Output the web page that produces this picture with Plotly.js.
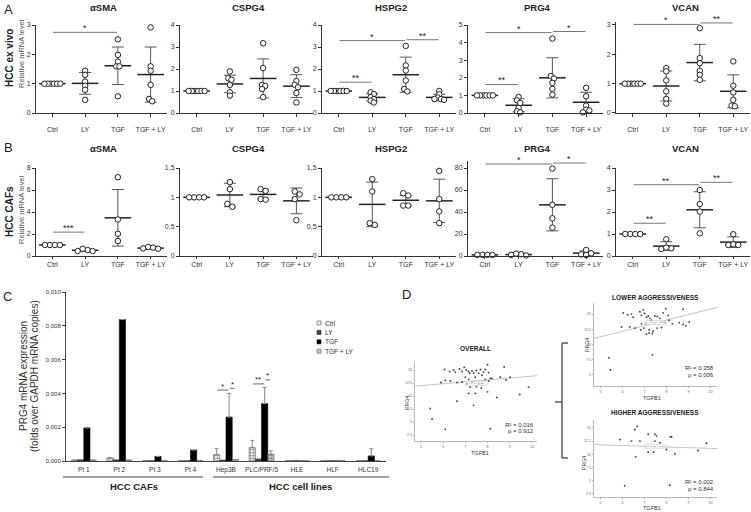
<!DOCTYPE html>
<html><head><meta charset="utf-8">
<script src="https://cdn.plot.ly/plotly-3.0.1.min.js"></script>
<style>html,body{margin:0;padding:0;background:#fff}#chart{width:751px;height:512px}</style>
</head><body><div id="chart"></div>
<script>
const W=751,H=512;
const groups=['Ctrl','LY','TGF','TGF + LY'];
const geneNames=['αSMA','CSPG4','HSPG2','PRG4','VCAN'];

// ---------- Panel A: HCC ex vivo (n = 6) ----------
const exSMA=[[1,1,1,1,1,1],[1.44,1.30,1.07,0.93,0.79,0.45],[2.51,1.98,1.75,1.59,1.59,0.57],[2.92,1.59,1.44,0.96,0.48,0.40]];
const exSMAMean=[1,1.01,1.61,1.31], exSMASd=[0,0.37,0.64,0.94];
const exSMASig=[[0,2,2.75,'*']];
const exCSPG4=[[1,1,1,1,1,1],[1.89,1.58,1.51,1.28,0.94,0.79],[3.17,2.04,1.28,1.23,1.09,0.72],[1.96,1.45,1.28,1.17,0.91,0.48]];
const exCSPG4Mean=[1,1.32,1.57,1.22], exCSPG4Sd=[0,0.40,0.89,0.52];
const exCSPG4Sig=[];
const exHSPG2=[[1,1,1,1,1,1],[0.94,0.86,0.72,0.63,0.56,0.48],[3.05,2.16,1.93,1.48,1.09,0.98],[1.0,0.85,0.7,0.63,0.63,0.6]];
const exHSPG2Mean=[1,0.71,1.74,0.71], exHSPG2Sd=[0,0.17,0.80,0.14];
const exHSPG2Sig=[[0,1,1.40,'**'],[0,2,3.29,'*'],[2,3,3.33,'**']];
const exPRG4=[[1,1,1,1,1,1],[0.91,0.72,0.57,0.29,0.10,0.04],[4.23,2.10,1.96,1.71,1.37,1.05],[1.43,0.95,0.42,0.19,0.15,0.04]];
const exPRG4Mean=[1,0.44,2.0,0.61], exPRG4Sd=[0,0.37,1.14,0.57];
const exPRG4Sig=[[0,1,1.62,'**'],[0,2,4.57,'*'],[2,3,4.63,'*']];
const exVCAN=[[1,1,1,1,1,1],[1.53,1.42,1.11,0.74,0.48,0.32],[2.89,1.87,1.70,1.44,1.30,1.13],[1.76,0.93,0.70,0.45,0.25,0.23]];
const exVCANMean=[1,0.92,1.72,0.74], exVCANSd=[0,0.51,0.62,0.56];
const exVCANSig=[[0,2,3.02,'*'],[2,3,3.07,'**']];

// ---------- Panel B: HCC CAFs (n = 4) ----------
const cafSMA=[[1,1,1,1],[0.54,0.45,0.45,0.66],[7.16,3.32,2.02,1.36],[0.82,0.76,0.69,0.66]];
const cafSMAMean=[1,0.52,3.47,0.72], cafSMASd=[0,0.09,2.57,0.07];
const cafSMASig=[[0,1,2.17,'***']];
const cafCSPG4=[[1,1,1,1],[1.26,1.14,0.89,0.84],[1.14,1.11,0.97,0.96],[1.10,1.05,0.97,0.61]];
const cafCSPG4Mean=[1,1.04,1.05,0.94], cafCSPG4Sd=[0,0.20,0.08,0.22];
const cafCSPG4Sig=[];
const cafHSPG2=[[1,1,1,1],[1.31,1.10,0.56,0.53],[1.07,1.03,0.86,0.86],[1.45,0.97,0.76,0.56]];
const cafHSPG2Mean=[1,0.88,0.95,0.94], cafHSPG2Sd=[0,0.38,0.08,0.37];
const cafHSPG2Sig=[];
const cafPRG4=[[1,1,1,1],[0.5,1.0,1.6,2.2],[79.5,46.5,34.3,25.8],[5.5,2.4,1.5,0.9]];
const cafPRG4Mean=[1,1.3,46.5,2.6], cafPRG4Sd=[0,0.7,23.7,2.0];
const cafPRG4Sig=[[0,2,83.6,'*'],[2,3,84.5,'*']];
const cafVCAN=[[1,1,1,1],[0.76,0.35,0.32,0.38],[3.0,2.36,2.02,1.03],[0.99,0.53,0.50,0.50]];
const cafVCANMean=[1,0.45,2.1,0.63], cafVCANSd=[0,0.2,0.82,0.24];
const cafVCANSig=[[0,1,1.49,'**'],[0,2,3.24,'**'],[2,3,3.35,'**']];

// ---------- Panel C: PRG4 mRNA expression ----------
const cCats=['Pt 1','Pt 2','Pt 3','Pt 4','Hep3B','PLC/PRF/5','HLE','HLF','HLC19'];
const cCtrl=[0.00005,0.00018,0.00001,0.00001,0.00037,0.00079,0.00001,0.00001,0.00001];
const cLY=[0.00007,0.00007,0.00001,0.00001,0.00005,0.00012,0.00001,0.00001,0.00001];
const cTGF=[0.00196,0.00837,0.00027,0.00065,0.0026,0.0034,0.00001,0.00001,0.0003];
const cTGFLY=[0.00005,0.00005,0.00001,0.00002,0.00008,0.0004,0.00001,0.00001,0.00001];
const cCtrlErr=[null,null,null,null,0.00036,0.00043,null,null,null];
const cTGFErr=[null,null,null,null,0.0014,0.00095,null,null,0.00042];
const cTGFLYErr=[null,null,null,null,null,0.0002,null,null,null];
const cSig=[[4,0,2,0.0042,'*'],[4,2,3,0.0043,'*'],[5,0,2,0.00456,'**'],[5,2,3,0.0048,'*']];

// ---------- Panel D: TGFB1 vs PRG4 ----------
const overallX=[6.07,6.29,6.47,6.55,6.74,6.85,6.95,7.04,7.14,7.2,7.3,7.37,7.5,7.6,7.68,7.75,7.82,8.0,7.9,8.05,8.12,8.75,9.02,8.57,8.84,6.32,6.62,6.85,7.0,7.15,7.3,7.45,7.6,7.75,7.9,8.05,8.2,7.07,7.22,7.5,7.72,7.15,7.45,8.0,6.62,8.42,7.37,9.45,9.85,5.42,5.5,6.1,8.12,5.9,6.1];
const overallY=[15.1,14.7,15.0,14.6,15.2,14.7,15.5,15.0,14.7,14.4,14.8,14.4,14.9,14.4,15.1,14.0,14.6,16.0,15.1,14.5,13.4,15.6,13.6,13.6,13.1,12.9,12.6,12.7,13.6,13.2,12.7,13.6,12.3,12.4,13.2,12.9,13.4,12.3,11.7,11.8,11.5,10.5,10.5,10.8,9.0,9.7,8.2,10.3,11.7,7.6,5.6,3.6,3.7,12.6,13.0];
const overallFitX=[4.73,10.23], overallFitY=[11.9,13.9];
const lowerX=[6.03,6.23,6.41,6.48,6.79,6.94,6.86,7.0,7.09,7.17,7.24,7.32,7.47,7.58,7.7,7.85,7.97,8.08,8.12,8.27,8.76,8.58,8.76,8.88,9.03,6.33,6.56,6.83,6.97,7.06,7.21,7.39,7.58,7.77,6.86,7.09,7.21,7.36,7.92,5.95,7.36,5.38,5.45];
const lowerY=[15.2,14.9,15.0,14.5,15.4,15.7,14.8,15.1,14.5,14.7,14.3,14.0,14.7,14.6,14.3,15.2,15.9,14.8,14.0,13.4,15.8,13.6,13.3,13.1,13.7,12.9,12.7,12.4,12.7,13.4,12.4,12.2,12.7,12.8,13.4,11.7,11.9,11.8,13.6,12.9,8.3,7.8,5.8];
const lowerFitX=[4.7,10.3], lowerFitY=[11.0,16.1];
const higherX=[6.56,6.67,5.88,6.41,6.79,7.17,7.47,7.55,7.47,7.7,8.18,8.23,7.17,7.42,8.0,6.6,8.38,9.44,9.82,6.1,8.15];
const higherY=[14.7,15.3,12.8,12.5,12.5,13.8,13.8,13.5,12.5,12.2,13.3,13.3,10.4,10.4,10.9,9.5,10.1,10.7,12.1,4.0,4.1];
const higherFitX=[4.7,10.3], higherFitY=[11.83,11.07];
const dStats=[['R² = 0.016','p = 0.912'],['R² = 0.358','p = 0.006'],['R² = 0.002','p = 0.844']];

// ================= build =================
const FONT='Liberation Sans, Arial, sans-serif';
const data=[], shapes=[], annotations=[];
const layout={width:W,height:H,margin:{l:0,r:0,t:0,b:0},paper_bgcolor:'#fff',plot_bgcolor:'rgba(0,0,0,0)',
  showlegend:false,separators:', ',font:{family:FONT,size:7,color:'#222'},
  barmode:'group',bargap:0.3,bargroupgap:0,shapes,annotations};

function axId(n){return n===1?'':String(n);}
function ann(x,y,text,size,opts){
  opts=opts||{};
  return Object.assign({xref:'paper',yref:'paper',x:x/W,y:1-y/H,text:text,showarrow:false,
    xanchor:'center',yanchor:'middle',font:{family:FONT,size:size,color:opts.color||'#222'}},opts.extra||{});
}
function swarm(vals,ppu,step){
  const n=vals.length, order=vals.map((v,i)=>i).sort((a,b)=>vals[b]-vals[a]);
  const off=new Array(n).fill(0);
  const cl=[[order[0]]];
  for(let k=1;k<n;k++){
    if((vals[order[k-1]]-vals[order[k]])*ppu<step) cl[cl.length-1].push(order[k]); else cl.push([order[k]]);
  }
  cl.forEach(c=>{
    const placed=[];
    c.forEach(i=>{
      const y=vals[i]*ppu;
      for(let m=0;m<40;m++){
        const k=(m%2?1:-1)*Math.ceil(m/2), dx=k*step;
        if(placed.every(p=>(p.dx-dx)*(p.dx-dx)+(p.y-y)*(p.y-y)>=step*step*0.98)){placed.push({i,dx,y});break;}
      }
    });
    const mu=placed.reduce((s,p)=>s+p.dx,0)/placed.length;
    placed.forEach(p=>{off[p.i]=p.dx-mu;});
  });
  return off;
}

function dotPanel(n,xd,topTickPx,botPx,yr,dtick,pts,mean,sd,sig,step,standoff,xtl){
  const id=axId(n), xr='x'+id, yrf='y'+id;
  const topTick=Math.floor(yr[1]/dtick+1e-9)*dtick;
  const ppu=(botPx-topTickPx)/topTick;
  const domTop=botPx-yr[1]*ppu;
  layout['xaxis'+id]={domain:[xd[0]/W,xd[1]/W],anchor:yrf,range:[-0.5,3.5],tickvals:[0,1,2,3],ticktext:groups,
    showline:true,linecolor:'#333',linewidth:1,ticks:'outside',ticklen:xtl,tickcolor:'#333',showgrid:false,zeroline:false,
    tickfont:{size:7,color:'#333'},ticklabelstandoff:standoff,fixedrange:true};
  layout['yaxis'+id]={domain:[1-botPx/H,1-domTop/H],anchor:xr,range:yr,dtick:dtick,tick0:0,
    showline:true,linecolor:'#333',linewidth:1,ticks:'outside',ticklen:3,tickcolor:'#333',showgrid:false,zeroline:false,
    tickfont:{size:7,color:'#333'},fixedrange:true};
  const pxCat=(xd[1]-xd[0])/4;
  data.push({type:'scatter',mode:'markers',xaxis:xr,yaxis:yrf,x:[0,1,2,3],y:mean,hoverinfo:'skip',cliponaxis:false,
    marker:{symbol:'line-ew',size:19,color:'#222',line:{width:1.5,color:'#222'}},
    error_y:{type:'data',array:sd,visible:true,color:'#555',thickness:1,width:6}});
  pts.forEach((vals,gi)=>{
    const off=swarm(vals,ppu,step);
    data.push({type:'scatter',mode:'markers',xaxis:xr,yaxis:yrf,x:off.map(d=>gi+d/pxCat),y:vals,cliponaxis:false,
      hoverinfo:'y',marker:{symbol:'circle',size:5.5,color:'#fff',line:{width:1,color:'#222'}}});
  });
  sig.forEach(s=>{
    shapes.push({type:'line',xref:xr,yref:yrf,x0:s[0]+0.02,x1:s[1]-0.02,y0:s[2],y1:s[2],line:{color:'#777',width:1}});
    annotations.push({xref:xr,yref:yrf,x:(s[0]+s[1])/2,y:s[2],text:s[3],showarrow:false,yanchor:'middle',yshift:4,
      font:{family:FONT,size:9,color:'#222'}});
  });
}

const xDoms=[[36,167],[180,313],[322,456],[468,603],[616,750]];
const rowA=[[exSMA,exSMAMean,exSMASd,exSMASig,[0,3],1],[exCSPG4,exCSPG4Mean,exCSPG4Sd,exCSPG4Sig,[0,4],1],
  [exHSPG2,exHSPG2Mean,exHSPG2Sd,exHSPG2Sig,[0,4],1],[exPRG4,exPRG4Mean,exPRG4Sd,exPRG4Sig,[0,5],1],
  [exVCAN,exVCANMean,exVCANSd,exVCANSig,[0,3.1],1]];
const rowB=[[cafSMA,cafSMAMean,cafSMASd,cafSMASig,[0,8],2],[cafCSPG4,cafCSPG4Mean,cafCSPG4Sd,cafCSPG4Sig,[0,1.5],0.5],
  [cafHSPG2,cafHSPG2Mean,cafHSPG2Sd,cafHSPG2Sig,[0,1.5],0.5],[cafPRG4,cafPRG4Mean,cafPRG4Sd,cafPRG4Sig,[0,86],20],
  [cafVCAN,cafVCANMean,cafVCANSd,cafVCANSig,[0,4],1]];
rowA.forEach((r,i)=>{
  dotPanel(i+1,xDoms[i],25,113,r[4],r[5],r[0],r[1],r[2],r[3],3.2,7,3);
  annotations.push(ann((xDoms[i][0]+xDoms[i][1])/2+2,7,'<b>'+geneNames[i]+'</b>',9.5));
});
rowB.forEach((r,i)=>{
  dotPanel(i+6,xDoms[i],168,256,r[4],r[5],r[0],r[1],r[2],r[3],5,0,2);
  annotations.push(ann((xDoms[i][0]+xDoms[i][1])/2+2,148,'<b>'+geneNames[i]+'</b>',9.5));
});
annotations.push(ann(8,9,'A',13));
annotations.push(ann(8,147,'B',13));
annotations.push(ann(9,58,'<b>HCC ex vivo</b>',10,{extra:{textangle:-90}}));
annotations.push(ann(21,54,'Relative mRNA level',7.5,{color:'#555',extra:{textangle:-90}}));
annotations.push(ann(9,212,'<b>HCC CAFs</b>',10,{extra:{textangle:-90}}));
annotations.push(ann(21,210,'Relative mRNA level',7.5,{color:'#555',extra:{textangle:-90}}));

// ---- Panel C ----
const cIdx=cCats.map((c,i)=>i);
const cX0=66,cX1=386,cTop=292,cBot=461;
layout.xaxis11={domain:[cX0/W,cX1/W],anchor:'y11',range:[-0.5,8.5],tickvals:cIdx,ticktext:cCats,showline:true,linecolor:'#444',
  linewidth:1,ticks:'',showgrid:false,zeroline:false,tickfont:{size:6.5,color:'#333'},ticklabelstandoff:2,fixedrange:true};
layout.yaxis11={domain:[1-cBot/H,1-cTop/H],anchor:'x11',range:[0,0.010],dtick:0.002,tick0:0,tickformat:'.3f',showline:true,
  linecolor:'#444',linewidth:1,ticks:'outside',ticklen:3,tickcolor:'#444',showgrid:false,zeroline:false,
  tickfont:{size:6,color:'#333'},fixedrange:true};
const zeros=cIdx.map(()=>0);
const barSpecs=[
  {name:'Ctrl',y:cCtrl,err:cCtrlErr,marker:{color:'#eeeeee',line:{color:'#555',width:0.6},pattern:{shape:'.',fgcolor:'#888',bgcolor:'#eee',size:3,solidity:0.4}}},
  {name:'LY',y:cLY,err:null,marker:{color:'#444',line:{color:'#222',width:0.6},pattern:{shape:'x',fgcolor:'#888',bgcolor:'#444',size:3,solidity:0.3}}},
  {name:'TGF',y:cTGF,err:cTGFErr,marker:{color:'#000',line:{color:'#000',width:0.6}}},
  {name:'TGF + LY',y:cTGFLY,err:cTGFLYErr,marker:{color:'#c8c8c8',line:{color:'#555',width:0.6},pattern:{shape:'.',fgcolor:'#777',bgcolor:'#ccc',size:3,solidity:0.4}}}];
barSpecs.forEach(b=>{
  const t={type:'bar',name:b.name,xaxis:'x11',yaxis:'y11',x:cIdx,y:b.y,marker:b.marker,hoverinfo:'y'};
  if(b.err) t.error_y={type:'data',symmetric:false,array:b.err,arrayminus:zeros,visible:true,color:'#888',thickness:1,width:2};
  data.push(t);
});
const bw=(1-layout.bargap)/4, barOff=k=>(k-1.5)*bw;
cSig.forEach(s=>{
  const x0=s[0]+barOff(s[1])+0.02, x1=s[0]+barOff(s[2])-0.02;
  shapes.push({type:'line',xref:'x11',yref:'y11',x0,x1,y0:s[3],y1:s[3],line:{color:'#666',width:1}});
  annotations.push({xref:'x11',yref:'y11',x:(x0+x1)/2,y:s[3],text:s[4],showarrow:false,yanchor:'middle',yshift:4,font:{family:FONT,size:8,color:'#222'}});
});
// manual legend
const legCols=[['#eee','#555'],['#444','#222'],['#000','#000'],['#c8c8c8','#555']];
barSpecs.forEach((b,i)=>{
  const yc=323+i*9.4;
  shapes.push({type:'rect',xref:'paper',yref:'paper',x0:317/W,x1:321/W,y0:1-(yc+2)/H,y1:1-(yc-2)/H,fillcolor:legCols[i][0],line:{color:legCols[i][1],width:0.6}});
  annotations.push(ann(322.5,yc,b.name,6.5,{color:'#333',extra:{xanchor:'left'}}));
});
annotations.push(ann(7,296,'C',13));
annotations.push(ann(23,376,'PRG4 mRNA expression',10,{color:'#333',extra:{textangle:-90}}));
annotations.push(ann(34,376,'(folds over GAPDH mRNA copies)',10,{color:'#333',extra:{textangle:-90}}));
shapes.push({type:'line',xref:'paper',yref:'paper',x0:63/W,x1:203/W,y0:1-477/H,y1:1-477/H,line:{color:'#444',width:1}});
shapes.push({type:'line',xref:'paper',yref:'paper',x0:213/W,x1:389/W,y0:1-477/H,y1:1-477/H,line:{color:'#444',width:1}});
annotations.push(ann(134,486,'<b>HCC CAFs</b>',9.5));
annotations.push(ann(300,486,'<b>HCC cell lines</b>',9.5));

// ---- Panel D ----
const dPanels=[
  {n:12,x:[415,537],y:[362,441],xr:[4.73,10.23],yr:[1.35,16.54],px:overallX,py:overallY,fx:overallFitX,fy:overallFitY,
   title:'OVERALL',tpos:[475,348],xt:[480,453],yt:[407,403],st:0,box:[464,487,381.3,385.3],sy:[425,431]},
  {n:13,x:[594,717],y:[303,386],xr:[4.7,10.3],yr:[3.17,16.83],px:lowerX,py:lowerY,fx:lowerFitX,fy:lowerFitY,
   title:'LOWER AGGRESSIVENESS',tpos:[655,297],xt:[652,397.5],yt:[587,345],st:1,box:[645,666,320.7,324.7],sy:[367.7,375]},
  {n:14,x:[594,717],y:[420,497],xr:[4.7,10.3],yr:[1.86,16.52],px:higherX,py:higherY,fx:higherFitX,fy:higherFitY,
   title:'HIGHER AGGRESSIVENESS',tpos:[655,412],xt:[652,508],yt:[584,463],st:2,box:[645,666,444.3,448.3],sy:[481.7,489.3]}];
const yTv=[2.5,5,7.5,10,12.5,15], yTt=['2.5','5','7.5','10','12.5','15'];
dPanels.forEach(p=>{
  const id=String(p.n);
  layout['xaxis'+id]={domain:[p.x[0]/W,p.x[1]/W],anchor:'y'+id,range:p.xr,tickvals:[5,6,7,8,9,10],showline:true,linecolor:'#aaa',
    linewidth:0.8,ticks:'outside',ticklen:1.5,tickcolor:'#aaa',showgrid:false,zeroline:false,tickfont:{size:3.6,color:'#666'},ticklabelstandoff:0,fixedrange:true};
  layout['yaxis'+id]={domain:[1-p.y[1]/H,1-p.y[0]/H],anchor:'x'+id,range:p.yr,tickvals:yTv,ticktext:yTt,showline:true,linecolor:'#aaa',
    linewidth:0.8,ticks:'outside',ticklen:1.5,tickcolor:'#aaa',showgrid:false,zeroline:false,tickfont:{size:3.6,color:'#666'},ticklabelstandoff:0,fixedrange:true};
  data.push({type:'scatter',mode:'lines',xaxis:'x'+id,yaxis:'y'+id,x:p.fx,y:p.fy,line:{color:'#c4c4c4',width:1},hoverinfo:'skip'});
  data.push({type:'scatter',mode:'markers',xaxis:'x'+id,yaxis:'y'+id,x:p.px,y:p.py,marker:{size:1.9,color:'#444'},hoverinfo:'x+y'});
  annotations.push(ann(p.tpos[0],p.tpos[1],'<b>'+p.title+'</b>',6.5));
  annotations.push(ann(p.xt[0],p.xt[1],'TGFB1',5.5,{color:'#333'}));
  annotations.push(ann(p.yt[0],p.yt[1],'PRG4',5.2,{color:'#333',extra:{textangle:-90}}));
  annotations.push(ann(p.x[1]-1,p.sy[0],dStats[p.st][0],6,{color:'#333',extra:{xanchor:'right'}}));
  annotations.push(ann(p.x[1]-1,p.sy[1],dStats[p.st][1],6,{color:'#333',extra:{xanchor:'right'}}));
  shapes.push({type:'rect',xref:'paper',yref:'paper',x0:p.box[0]/W,x1:p.box[1]/W,y0:1-p.box[3]/H,y1:1-p.box[2]/H,fillcolor:'rgba(255,255,255,0.6)',line:{color:'#bbb',width:0.5}});
  annotations.push(ann((p.box[0]+p.box[1])/2,(p.box[2]+p.box[3])/2,'R² Linear = '+dStats[p.st][0].slice(5),2.4,{color:'#888'}));
});
annotations.push(ann(406,294,'D',13));
// bracket between overall and subgroups
[[562,343,562,458],[562,343,568,343],[562,458,568,458],[555,402,562,402]].forEach(l=>{
  shapes.push({type:'line',xref:'paper',yref:'paper',x0:l[0]/W,x1:l[2]/W,y0:1-l[1]/H,y1:1-l[3]/H,line:{color:'#444',width:1.3}});
});

Plotly.newPlot('chart',data,layout,{displayModeBar:false,staticPlot:true});
</script></body></html>
